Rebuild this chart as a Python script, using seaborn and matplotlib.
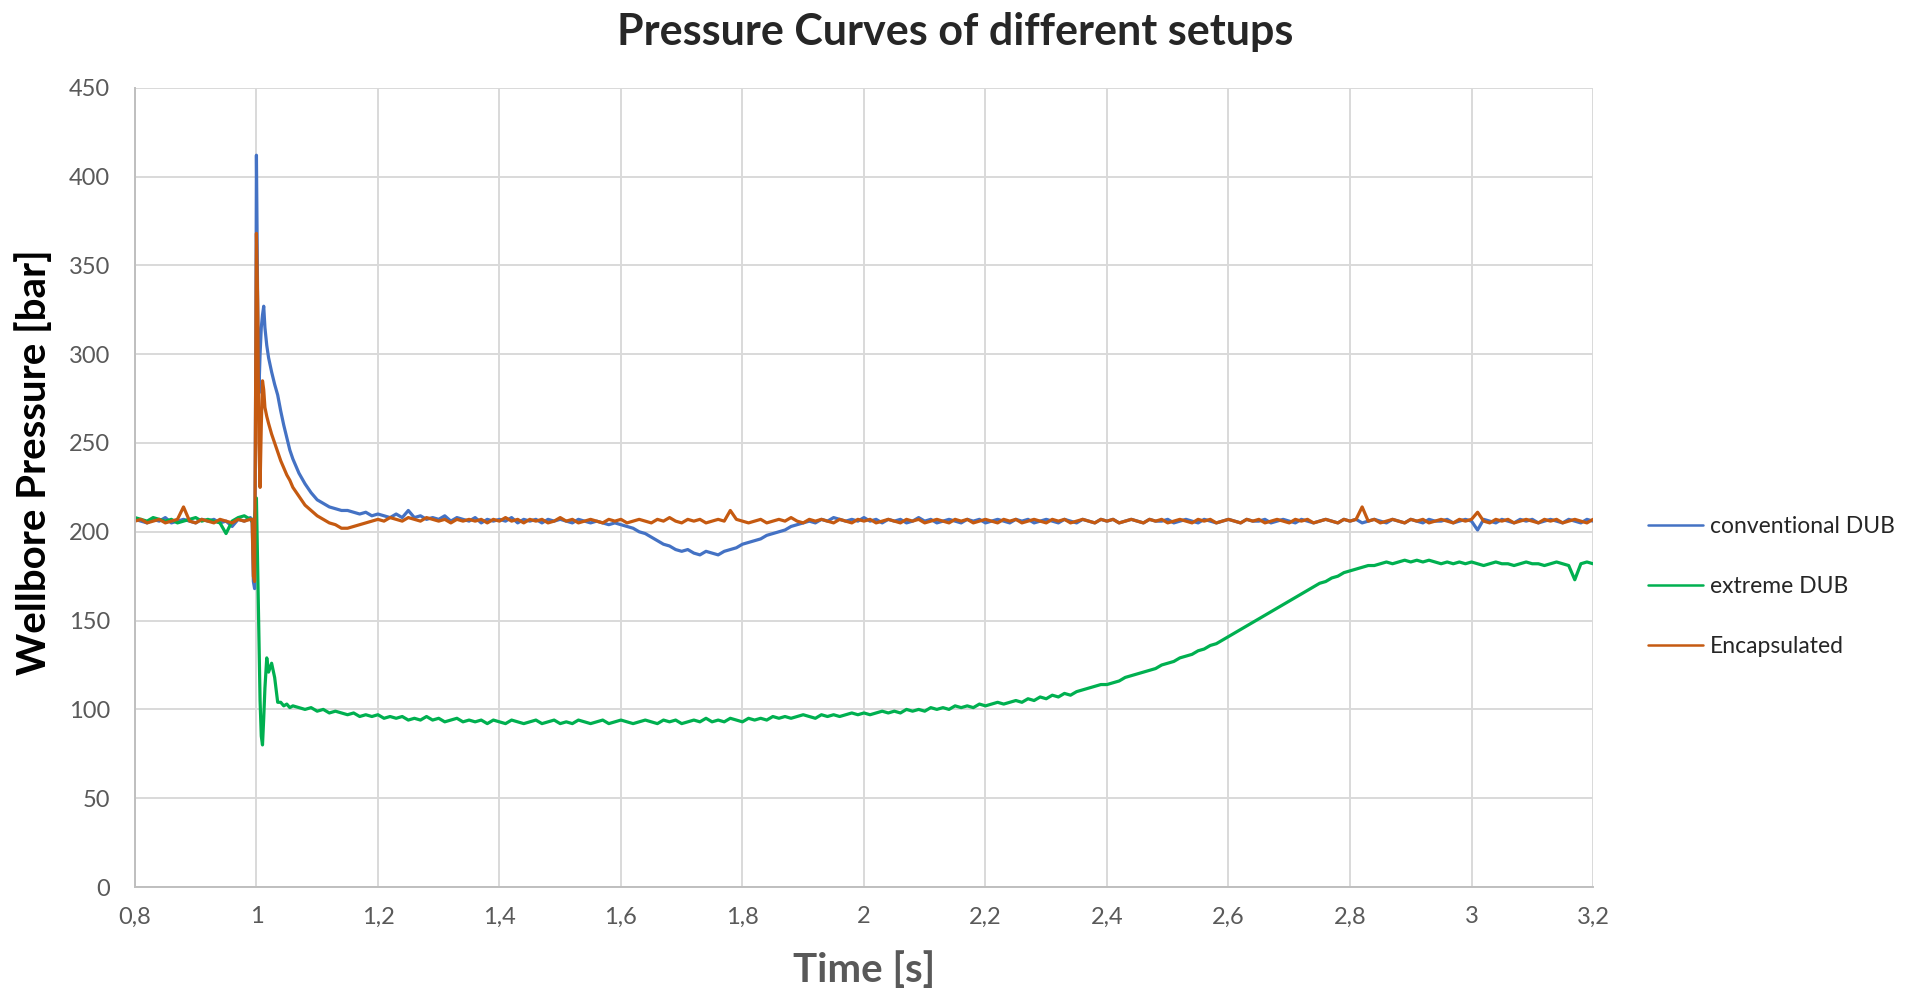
import numpy as np
import pandas as pd
import seaborn as sns
import matplotlib.pyplot as plt
from matplotlib.ticker import FuncFormatter

# ----------------
# data (bar vs s)
# ----------------

series_names = ["conventional DUB", "extreme DUB", "Encapsulated"]
series_colors = ["#4472C4", "#00B050", "#C55A11"]

# time grid: before the burst, around the burst (fine), after the burst
time_pre = list(np.round(np.arange(0.80, 0.995, 0.01), 3))
time_burst = [0.993, 0.995, 0.997, 0.999, 1.000, 1.002, 1.004, 1.006, 1.008, 1.010,
              1.012, 1.014, 1.017, 1.020, 1.025, 1.030, 1.035, 1.040, 1.045, 1.050, 1.055]
time_post = list(np.round(np.linspace(1.06, 3.20, 215), 3))

conv_pre = [207, 206, 205, 207, 206, 208, 205, 206, 207, 206,
            205, 207, 206, 207, 205, 206, 203, 207, 206, 208]
conv_burst = [205, 172, 168, 300, 412, 330, 278, 300, 315, 322,
              327, 315, 305, 298, 290, 283, 277, 268, 260, 253, 246]
conv_post = [241, 233, 227, 222, 218, 216, 214, 213, 212, 212,
             211, 210, 211, 209, 210, 209, 208, 210, 208, 212,
             208, 209, 207, 208, 207, 209, 206, 208, 207, 206,
             208, 205, 207, 206, 207, 206, 208, 205, 207, 206,
             207, 205, 207, 206, 207, 206, 205, 207, 206, 205,
             206, 205, 204, 205, 204, 203, 202, 200, 199, 197,
             195, 193, 192, 190, 189, 190, 188, 187, 189, 188,
             187, 189, 190, 191, 193, 194, 195, 196, 198, 199,
             200, 201, 203, 204, 205, 206, 205, 207, 206, 208,
             207, 206, 207, 206, 208, 206, 207, 205, 207, 206,
             207, 205, 206, 208, 206, 207, 205, 206, 207, 206,
             205, 207, 206, 207, 205, 206, 207, 206, 205, 207,
             206, 207, 205, 206, 207, 206, 205, 207, 206, 205,
             207, 206, 205, 207, 206, 207, 205, 206, 207, 206,
             205, 207, 206, 206, 207, 205, 206, 207, 206, 205,
             207, 206, 205, 206, 207, 206, 205, 207, 206, 206,
             207, 205, 206, 207, 206, 205, 207, 206, 205, 206,
             207, 206, 205, 207, 206, 207, 205, 206, 207, 206,
             205, 207, 206, 205, 207, 206, 205, 207, 206, 206,
             207, 205, 206, 207, 206, 201, 207, 206, 205, 207,
             206, 205, 207, 206, 207, 205, 206, 207, 206, 205,
             207, 206, 205, 207, 206]

ext_pre = [208, 207, 206, 208, 207, 206, 207, 205, 206, 207,
           208, 206, 207, 206, 205, 199, 206, 208, 209, 207]
ext_burst = [206, 207, 208, 214, 219, 180, 140, 105, 85, 80,
             95, 112, 129, 121, 126, 118, 104, 104, 102, 103, 101]
ext_post = [102, 101, 100, 101, 99, 100, 98, 99, 98, 97,
            98, 96, 97, 96, 97, 95, 96, 95, 96, 94,
            95, 94, 96, 94, 95, 93, 94, 95, 93, 94,
            93, 94, 92, 94, 93, 92, 94, 93, 92, 93,
            94, 92, 93, 94, 92, 93, 92, 94, 93, 92,
            93, 94, 92, 93, 94, 93, 92, 93, 94, 93,
            92, 94, 93, 94, 92, 93, 94, 93, 95, 93,
            94, 93, 95, 94, 93, 95, 94, 95, 94, 96,
            95, 96, 95, 96, 97, 96, 95, 97, 96, 97,
            96, 97, 98, 97, 98, 97, 98, 99, 98, 99,
            98, 100, 99, 100, 99, 101, 100, 101, 100, 102,
            101, 102, 101, 103, 102, 103, 104, 103, 104, 105,
            104, 106, 105, 107, 106, 108, 107, 109, 108, 110,
            111, 112, 113, 114, 114, 115, 116, 118, 119, 120,
            121, 122, 123, 125, 126, 127, 129, 130, 131, 133,
            134, 136, 137, 139, 141, 143, 145, 147, 149, 151,
            153, 155, 157, 159, 161, 163, 165, 167, 169, 171,
            172, 174, 175, 177, 178, 179, 180, 181, 181, 182,
            183, 182, 183, 184, 183, 184, 183, 184, 183, 182,
            183, 182, 183, 182, 183, 182, 181, 182, 183, 182,
            182, 181, 182, 183, 182, 182, 181, 182, 183, 182,
            181, 173, 182, 183, 182]

enc_pre = [206, 207, 205, 206, 207, 205, 206, 207, 214, 206,
           205, 207, 206, 205, 207, 206, 205, 207, 206, 207]
enc_burst = [207, 175, 172, 300, 368, 330, 250, 225, 260, 285,
             280, 270, 265, 261, 255, 250, 245, 240, 236, 232, 229]
enc_post = [225, 220, 215, 212, 209, 207, 205, 204, 202, 202,
            203, 204, 205, 206, 207, 206, 208, 207, 206, 208,
            207, 206, 208, 207, 206, 207, 205, 207, 206, 207,
            206, 207, 205, 207, 206, 208, 206, 207, 205, 207,
            206, 207, 205, 206, 208, 206, 207, 205, 206, 207,
            206, 205, 207, 206, 207, 205, 206, 207, 206, 205,
            207, 206, 208, 206, 205, 207, 206, 207, 205, 206,
            207, 206, 212, 207, 206, 205, 206, 207, 205, 206,
            207, 206, 208, 206, 205, 207, 206, 207, 206, 205,
            207, 206, 205, 207, 206, 207, 205, 206, 207, 206,
            205, 207, 206, 207, 205, 206, 207, 206, 205, 207,
            206, 207, 205, 206, 207, 206, 205, 207, 206, 207,
            205, 206, 207, 206, 205, 207, 206, 207, 205, 206,
            207, 206, 205, 207, 206, 207, 205, 206, 207, 206,
            205, 207, 206, 207, 205, 206, 207, 206, 205, 207,
            206, 207, 205, 206, 207, 206, 205, 207, 206, 207,
            205, 206, 207, 206, 205, 207, 206, 207, 205, 206,
            207, 206, 205, 207, 206, 207, 214, 206, 207, 205,
            206, 207, 206, 205, 207, 206, 207, 205, 206, 207,
            206, 205, 207, 206, 207, 211, 206, 205, 207, 206,
            207, 205, 206, 207, 206, 205, 207, 206, 207, 205,
            206, 207, 206, 205, 207]

x_ticks = [0.8, 1.0, 1.2, 1.4, 1.6, 1.8, 2.0, 2.2, 2.4, 2.6, 2.8, 3.0, 3.2]
y_ticks = [0, 50, 100, 150, 200, 250, 300, 350, 400, 450]

# ----------------
# long DataFrame for seaborn
# ----------------
time_all = time_pre + time_burst + time_post
values = {
    "conventional DUB": conv_pre + conv_burst + conv_post,
    "extreme DUB": ext_pre + ext_burst + ext_post,
    "Encapsulated": enc_pre + enc_burst + enc_post,
}
frames = []
for name in series_names:
    assert len(values[name]) == len(time_all), name
    frames.append(pd.DataFrame({"Time": time_all, "Pressure": values[name], "Setup": name}))
df = pd.concat(frames, ignore_index=True)

sns.set_theme(style="white")
plt.rcParams['font.family'] = ['Lato', 'DejaVu Sans']

fig = plt.figure(figsize=(19.11, 9.88), dpi=100)
ax = fig.add_axes([0.0706, 0.1022, 0.7630, 0.8090])

sns.lineplot(data=df, x="Time", y="Pressure", hue="Setup", hue_order=series_names,
             palette=dict(zip(series_names, series_colors)), estimator=None, sort=False,
             linewidth=2.3, ax=ax, legend=False)

ax.set_xlim(0.8, 3.2)
ax.set_ylim(0, 450)
ax.set_xticks(x_ticks)
ax.set_yticks(y_ticks)
ax.xaxis.set_major_formatter(FuncFormatter(lambda v, _: f"{v:g}".replace(".", ",")))
ax.grid(True, color="#D9D9D9", linewidth=1.4)
ax.set_axisbelow(True)
for side in ["top", "right"]:
    ax.spines[side].set_visible(False)
for side in ["left", "bottom"]:
    ax.spines[side].set_color("#BFBFBF")
    ax.spines[side].set_linewidth(1.4)
ax.tick_params(axis="both", length=0, labelsize=17, colors="#595959")
ax.tick_params(axis="y", pad=18)
ax.tick_params(axis="x", pad=14)

ax.set_xlabel("Time [s]", fontsize=29, fontweight="bold", color="#595959", va="top")
ax.xaxis.set_label_coords(0.5, -0.08)
ax.set_ylabel("Wellbore Pressure [bar]", fontsize=29, fontweight="bold", color="black")
ax.yaxis.set_label_coords(-0.056, 0.532)
fig.suptitle("Pressure Curves of different setups", fontsize=31, fontweight="bold", y=0.988)

# legend to the right of the plot, no frame
handles = [plt.Line2D([], [], color=c, linewidth=1.8) for c in series_colors]
ax.legend(handles, series_names, loc="center left", bbox_to_anchor=(1.0377, 0.3755),
          frameon=False, fontsize=16.5, handlelength=2.4, handletextpad=0.3,
          labelspacing=1.7, borderpad=0, borderaxespad=0)

plt.savefig("out.png", dpi=100)
